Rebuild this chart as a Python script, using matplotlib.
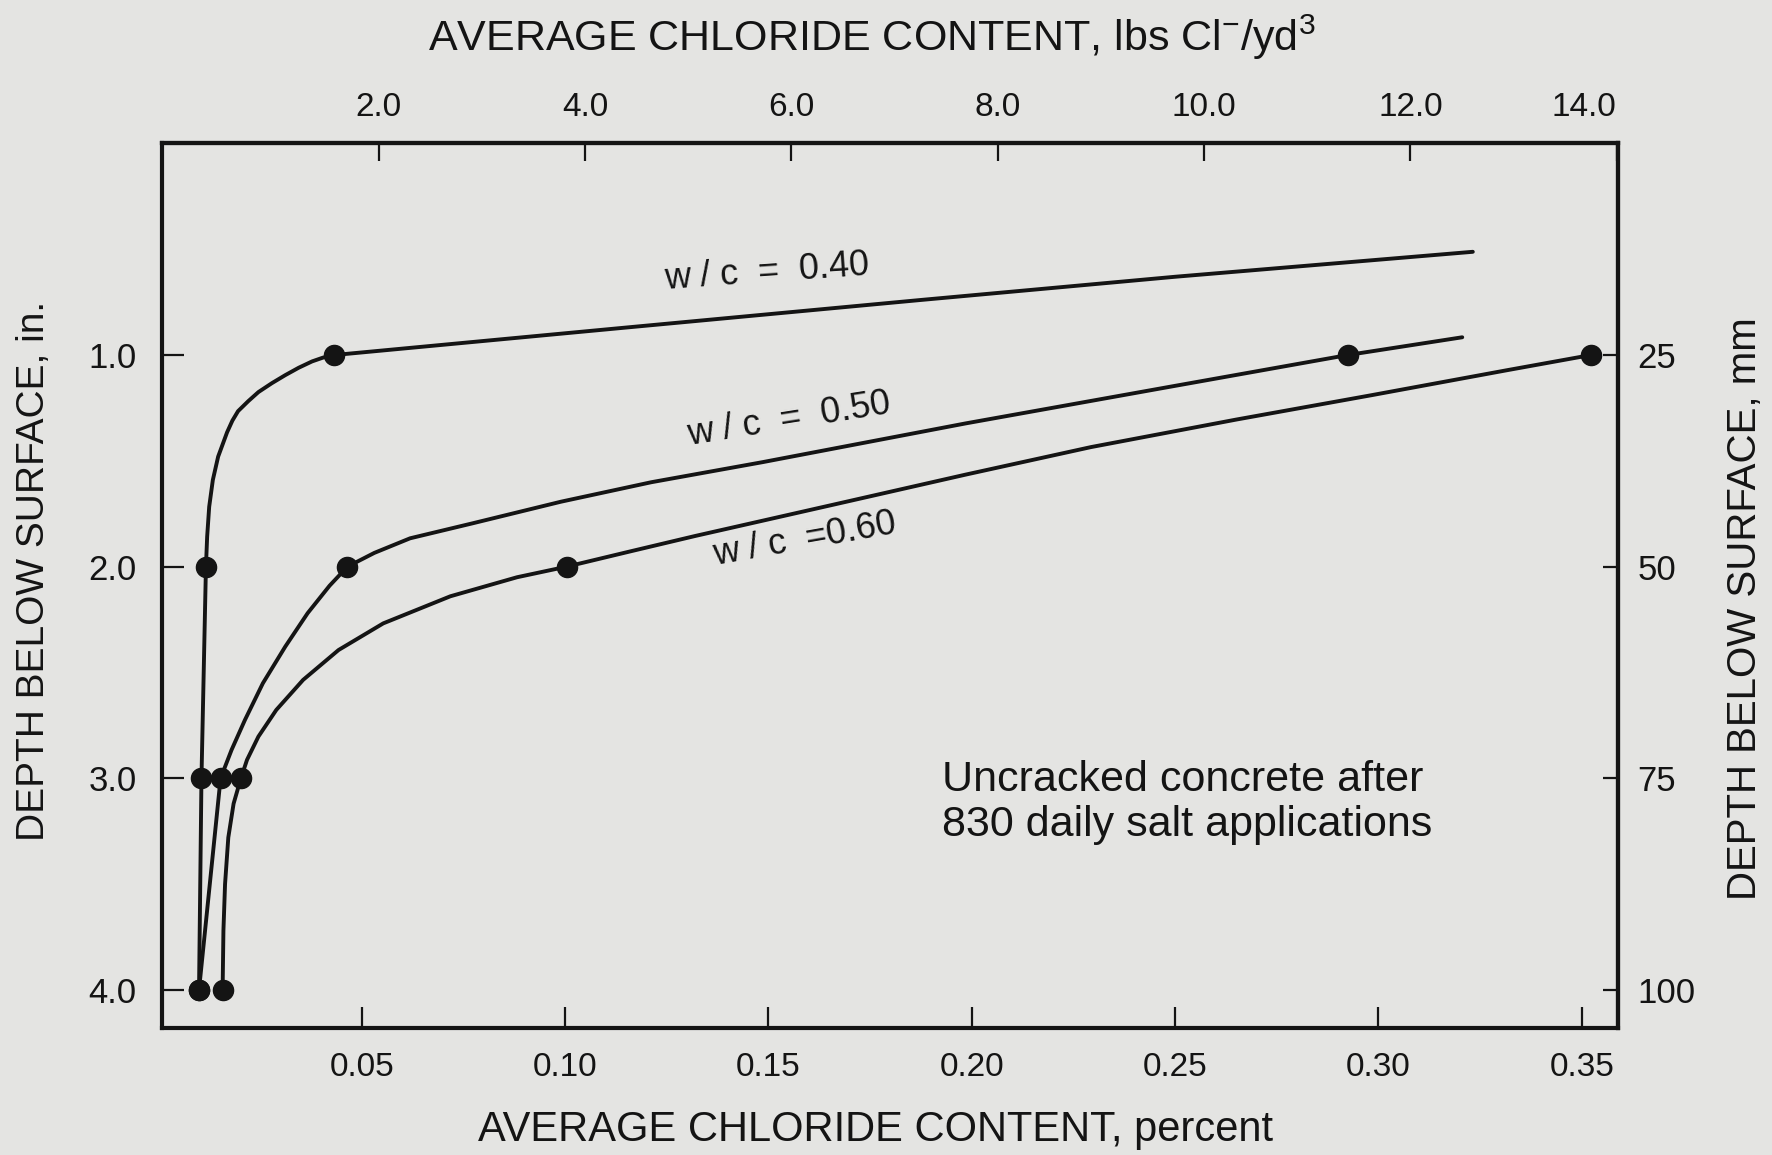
import matplotlib
matplotlib.use("Agg")
import matplotlib.pyplot as plt

plt.rcParams['font.family'] = ['Liberation Sans', 'DejaVu Sans']
plt.rcParams['mathtext.fontset'] = 'custom'
plt.rcParams['mathtext.rm'] = 'Liberation Sans'
plt.rcParams['mathtext.it'] = 'Liberation Sans'

# --- data: chloride (percent) vs depth (in.) ---
w40_pct = [0.3232, 0.2500, 0.1873, 0.1150, 0.0432, 0.0405, 0.0378, 0.0345, 0.0312,
           0.0279, 0.0246, 0.0221, 0.0196, 0.0182, 0.0169, 0.0147, 0.0134, 0.0125,
           0.0120, 0.0117, 0.0106, 0.0100]
w40_depth = [0.512, 0.63, 0.74, 0.87, 1.0, 1.012, 1.03, 1.06, 1.095,
             1.133, 1.175, 1.218, 1.265, 1.31, 1.365, 1.48, 1.59, 1.717,
             1.858, 2.0, 3.0, 4.0]
w40_pts_pct = [0.0432, 0.0117, 0.0106, 0.0100]
w40_pts_depth = [1.0, 2.0, 3.0, 4.0]

w50_pct = [0.3206, 0.2924, 0.2484, 0.1985, 0.1486, 0.1212, 0.0990, 0.0773, 0.0619,
           0.0531, 0.0465, 0.0421, 0.0367, 0.0312, 0.0257, 0.0213, 0.0180, 0.0153, 0.0100]
w50_depth = [0.916, 1.0, 1.151, 1.323, 1.506, 1.601, 1.693, 1.795, 1.866,
             1.935, 2.0, 2.09, 2.22, 2.378, 2.551, 2.724, 2.866, 3.0, 4.0]
w50_pts_pct = [0.2924, 0.0465, 0.0153, 0.0100]
w50_pts_depth = [1.0, 2.0, 3.0, 4.0]

w60_pct = [0.3522, 0.3315, 0.2982, 0.2650, 0.2293, 0.1985, 0.1653, 0.1320, 0.1160,
           0.1004, 0.0882, 0.0718, 0.0553, 0.0443, 0.0356, 0.0290, 0.0246, 0.0218,
           0.0203, 0.0185, 0.0172, 0.0164, 0.0160, 0.0158]
w60_depth = [1.0, 1.072, 1.19, 1.305, 1.435, 1.565, 1.71, 1.855, 1.928,
             2.0, 2.05, 2.14, 2.268, 2.394, 2.535, 2.677, 2.803, 2.913,
             3.0, 3.12, 3.28, 3.5, 3.72, 4.0]
w60_pts_pct = [0.3522, 0.1004, 0.0203, 0.0158]
w60_pts_depth = [1.0, 2.0, 3.0, 4.0]

pct_ticks = [0.05, 0.10, 0.15, 0.20, 0.25, 0.30, 0.35]
pct_labels = ['0.05', '0.10', '0.15', '0.20', '0.25', '0.30', '0.35']
lbs_ticks = [2.0, 4.0, 6.0, 8.0, 10.0, 12.0, 14.0]
lbs_labels = ['2.0', '4.0', '6.0', '8.0', '10.0', '12.0', '14.0']
in_ticks = [1.0, 2.0, 3.0, 4.0]
in_labels = ['1.0', '2.0', '3.0', '4.0']
mm_ticks = [25, 50, 75, 100]
mm_labels = ['25', '50', '75', '100']

BG = '#e4e4e2'
INK = '#141414'

fig = plt.figure(figsize=(17.72, 11.55), dpi=100, facecolor=BG)
ax = fig.add_axes([0.0912, 0.110, 0.8219, 0.7658], facecolor=BG)

for xs, ys, px, py in [(w40_pct, w40_depth, w40_pts_pct, w40_pts_depth),
                       (w50_pct, w50_depth, w50_pts_pct, w50_pts_depth),
                       (w60_pct, w60_depth, w60_pts_pct, w60_pts_depth)]:
    ax.plot(xs, ys, color=INK, lw=2.8, solid_joinstyle='round', solid_capstyle='round')
    ax.plot(px, py, 'o', color=INK, ms=14.5)

ax.set_xlim(0.0008, 0.3589)
ax.set_ylim(4.18, 0.0)

for s in ax.spines.values():
    s.set_linewidth(3)
    s.set_color(INK)

ax.set_xticks(pct_ticks)
ax.set_xticklabels(pct_labels)
ax.set_yticks(in_ticks)
ax.set_yticklabels(in_labels)
ax.tick_params(direction='in', width=1.6, color=INK, labelsize=24, labelcolor=INK)
ax.tick_params(axis='x', length=15, pad=17)
ax.tick_params(axis='y', length=16, pad=18, labelsize=25)

# top axis: lbs Cl/yd3 (hand-drawn scale, slightly offset from percent scale)
top = ax.secondary_xaxis('top', functions=(lambda p: 39.42 * p - 0.135,
                                           lambda t: (t + 0.135) / 39.42))
top.set_xticks(lbs_ticks)
top.set_xticklabels(lbs_labels)
top.tick_params(direction='in', length=13, width=1.6, color=INK, labelsize=24,
                labelcolor=INK, pad=15)
top.get_xticklabels()[-1].set_horizontalalignment('right')

right = ax.secondary_yaxis('right', functions=(lambda d: d * 25, lambda m: m / 25))
right.set_yticks(mm_ticks)
right.set_yticklabels(mm_labels)
right.tick_params(direction='in', length=11, width=1.6, color=INK, labelsize=25,
                  labelcolor=INK, pad=14)
for s in list(top.spines.values()) + list(right.spines.values()):
    s.set_linewidth(3)
    s.set_color(INK)

ax.text(0.1497, 0.608, 'w / c  =  0.40', rotation=4, fontsize=26, color=INK,
        ha='center', va='center', rotation_mode='anchor')
ax.text(0.155, 1.307, 'w / c  =  0.50', rotation=9, fontsize=26, color=INK,
        ha='center', va='center', rotation_mode='anchor')
ax.text(0.159, 1.874, 'w / c  =0.60', rotation=10, fontsize=26, color=INK,
        ha='center', va='center', rotation_mode='anchor')
ax.text(0.1928, 3.115, 'Uncracked concrete after\n830 daily salt applications',
        fontsize=31, color=INK, ha='left', va='center', linespacing=1.18)

fig.text(0.492, 0.968, r'AVERAGE CHLORIDE CONTENT, lbs Cl$^{-}$/yd$^{3}$',
         fontsize=31, color=INK, ha='center', va='center')
fig.text(0.494, 0.0216, 'AVERAGE CHLORIDE CONTENT, percent',
         fontsize=30, color=INK, ha='center', va='center')
fig.text(0.019, 0.506, 'DEPTH BELOW SURFACE, in.', rotation=90,
         fontsize=28, color=INK, ha='center', va='center')
fig.text(0.985, 0.473, 'DEPTH BELOW SURFACE, mm', rotation=90,
         fontsize=29, color=INK, ha='center', va='center')

fig.savefig('out.png', dpi=100, facecolor=BG)
